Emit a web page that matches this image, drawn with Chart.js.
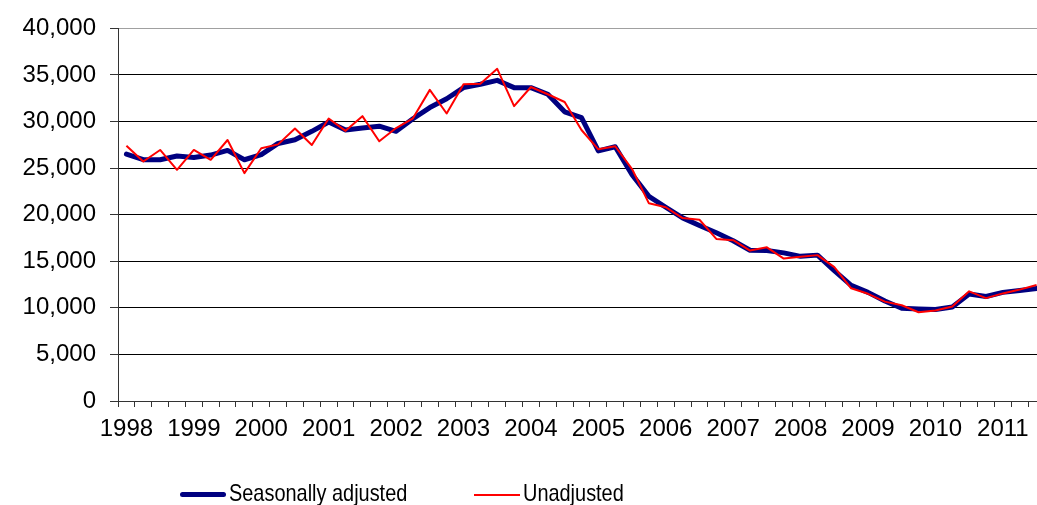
<!DOCTYPE html>
<html>
<head>
<meta charset="utf-8">
<script src="https://cdn.jsdelivr.net/npm/chart.js@4.4.0/dist/chart.umd.min.js"></script>
<style>
  html, body { margin: 0; padding: 0; background: #fff; overflow: hidden; }
  #wrap { position: relative; width: 1037px; height: 505px; overflow: hidden; }
  #chart { position: absolute; left: 0; top: 0; }
  .leg-line { position: absolute; width: 46px; }
  .leg-text {
    position: absolute; top: 479px; height: 28px; line-height: 28px;
    font: 24px "Liberation Sans", Arial, sans-serif;
    color: #000; white-space: nowrap;
    transform: scaleX(0.83); transform-origin: left center;
  }
</style>
</head>
<body>
<div id="wrap">
  <canvas id="chart" width="1050" height="505"></canvas>
  <div class="leg-line" style="left:180px; top:492px; height:5px; border-radius:3px; background:#000080;"></div>
  <div class="leg-text" style="left:229px;">Seasonally adjusted</div>
  <div class="leg-line" style="left:474px; top:494px; height:2px; background:#ff0000;"></div>
  <div class="leg-text" style="left:523px;">Unadjusted</div>
</div>
<script>
// tick labels (one per year, shown on the first quarter)
const years = ["1998", "1999", "2000", "2001", "2002", "2003", "2004",
  "2005", "2006", "2007", "2008", "2009", "2010", "2011"];
const quarters = ["Q1", "Q2", "Q3", "Q4"];

// seasonally adjusted series, 1998 Q1 .. 2011 Q3
const seasonallyAdjusted = [
  26500, 25900, 25900, 26300, 26150, 26400, 26900, 25900,
  26450, 27650, 28050, 28950, 29950, 29100, 29300, 29500,
  28950, 30300, 31500, 32450, 33650, 34000, 34420, 33640,
  33640, 32930, 31050, 30420, 26850, 27300, 24300, 21970,
  20800, 19660, 18850, 18060, 17200, 16180, 16150, 15900,
  15530, 15660, 14000, 12420, 11660, 10730, 9960, 9880,
  9820, 10100, 11480, 11220, 11660, 11870, 12070
];

// unadjusted series, same quarters
const unadjusted = [
  27410, 25710, 26950, 24820, 26950, 25890, 28020, 24460,
  27130, 27550, 29260, 27490, 30330, 29000, 30580, 27880,
  29300, 30350, 33400, 30860, 34000, 34060, 35660, 31650,
  33710, 32930, 32100, 29090, 27020, 27350, 24900, 21220,
  20800, 19640, 19460, 17400, 17260, 16150, 16500, 15290,
  15480, 15660, 14370, 12100, 11510, 10670, 10280, 9530,
  9710, 10150, 11770, 11040, 11550, 11960, 12450
];

// categories: one per quarter
const categories = [];
years.forEach((y) => {
  quarters.forEach((q) => {
    if (categories.length < seasonallyAdjusted.length) categories.push(y + " " + q);
  });
});

const fontFamily = '"Liberation Sans", Arial, sans-serif';
const axisColor = "#333333";

new Chart(document.getElementById("chart").getContext("2d"), {
  type: "line",
  data: {
    labels: categories,
    datasets: [
      {
        label: "Seasonally adjusted",
        data: seasonallyAdjusted,
        borderColor: "#000080",
        backgroundColor: "#000080",
        borderWidth: 5,
        borderJoinStyle: "round",
        borderCapStyle: "round",
        pointRadius: 0,
        tension: 0,
        order: 1,
      },
      {
        label: "Unadjusted",
        data: unadjusted,
        borderColor: "#ff0000",
        backgroundColor: "#ff0000",
        borderWidth: 2,
        borderJoinStyle: "round",
        pointRadius: 0,
        tension: 0,
        order: 0,
      },
    ],
  },
  options: {
    responsive: false,
    animation: false,
    layout: { padding: { top: 26, right: 5, left: 0, bottom: 0 } },
    plugins: {
      legend: { display: false },
      tooltip: { enabled: false },
    },
    scales: {
      x: {
        type: "category",
        offset: true,
        afterFit: (scale) => { scale.height = 104; },
        grid: {
          offset: true,
          drawOnChartArea: false,
          drawTicks: true,
          tickLength: 6,
          color: axisColor,
        },
        border: { display: true, color: axisColor, width: 1 },
        ticks: {
          autoSkip: false,
          maxRotation: 0,
          minRotation: 0,
          padding: 8,
          color: "#000",
          font: { family: fontFamily, size: 24 },
          callback: (value, index) => (index % 4 === 0 ? years[index / 4] : ""),
        },
      },
      y: {
        min: 0,
        max: 40000,
        afterFit: (scale) => { scale.width = 118; },
        grid: {
          color: (ctx) => (ctx.tick && ctx.tick.value === 40000 ? "#a0a0a0" : "#000000"),
          tickColor: axisColor,
          tickLength: 8,
          lineWidth: 1,
        },
        border: { display: true, color: axisColor, width: 1 },
        ticks: {
          stepSize: 5000,
          padding: 14,
          color: "#000",
          font: { family: fontFamily, size: 24 },
          callback: (v) => v.toLocaleString("en-US"),
        },
      },
    },
  },
});
</script>
</body>
</html>
